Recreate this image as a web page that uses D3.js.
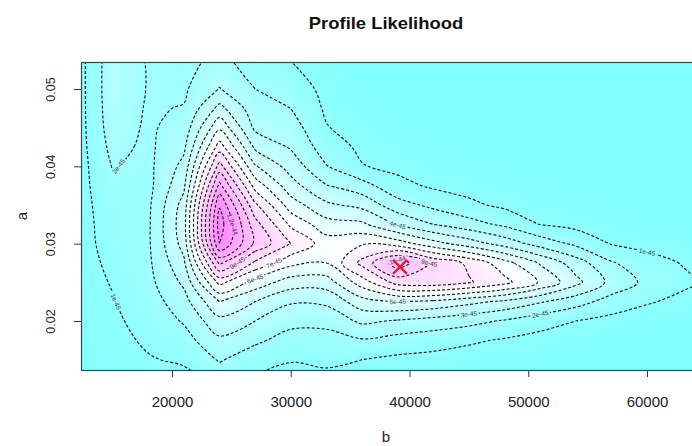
<!DOCTYPE html>
<html>
<head>
<meta charset="utf-8">
<script src="https://cdn.jsdelivr.net/npm/d3@7"></script>
<style>
  body { margin: 0; background: #fff; }
  svg { display: block; }
</style>
</head>
<body>
<div id="graphicContainer"></div>
<script>
// grid of the profile likelihood (values in units of 1e-45)
const bGrid = [12000, 15000, 18000, 21000, 24000, 27000, 30000, 33000, 36000, 39000, 42000, 45000, 48000, 51000, 54000, 57000, 60000, 63000, 66000]
const aGrid = [0.055, 0.0525, 0.05, 0.0475, 0.045, 0.0425, 0.04, 0.0375, 0.035, 0.0325, 0.03, 0.0275, 0.025, 0.0225, 0.02, 0.0175, 0.015, 0.0125]
const likelihood = [
  [0.5, 2.6, 1.9, 1.6, 2.2, 1.2, 0.8, 0.35, 0.15, 0.1, 0.1, 0.1, 0.1, 0.1, 0.1, 0.1, 0.1, 0.1, 0.1],
  [0.5, 2.65, 1.95, 1.7, 2.5, 1.6, 1.15, 0.5, 0.2, 0.1, 0.1, 0.1, 0.1, 0.1, 0.1, 0.1, 0.1, 0.1, 0.1],
  [0.5, 2.65, 1.95, 1.85, 3.05, 2.0, 1.6, 0.7, 0.3, 0.15, 0.1, 0.1, 0.1, 0.1, 0.1, 0.1, 0.1, 0.1, 0.1],
  [0.5, 2.6, 1.9, 2.05, 4.3, 2.4, 2.0, 0.85, 0.45, 0.25, 0.15, 0.1, 0.1, 0.1, 0.1, 0.1, 0.1, 0.1, 0.1],
  [0.5, 2.5, 1.85, 2.4, 5.8, 2.8, 2.5, 1.05, 0.6, 0.4, 0.25, 0.15, 0.1, 0.1, 0.1, 0.1, 0.1, 0.1, 0.1],
  [0.5, 2.3, 1.8, 2.8, 7.5, 3.8, 2.9, 1.5, 0.8, 0.55, 0.35, 0.25, 0.15, 0.1, 0.1, 0.1, 0.1, 0.1, 0.1],
  [0.5, 2.05, 1.75, 3.3, 9.4, 5.1, 3.6, 2.05, 1.05, 0.75, 0.5, 0.4, 0.3, 0.2, 0.15, 0.1, 0.1, 0.1, 0.1],
  [0.6, 1.7, 1.7, 3.8, 11.3, 6.6, 4.4, 3.05, 2.4, 1.3, 0.85, 0.65, 0.5, 0.35, 0.25, 0.2, 0.15, 0.1, 0.1],
  [0.7, 1.4, 1.8, 4.4, 12.9, 8.2, 5.5, 4.2, 3.7, 2.4, 1.75, 1.2, 0.8, 0.55, 0.4, 0.3, 0.2, 0.15, 0.1],
  [0.72, 1.3, 1.85, 4.6, 13.5, 9.4, 6.8, 5.4, 5.2, 3.9, 3.0, 2.4, 1.8, 0.97, 0.7, 0.5, 0.35, 0.25, 0.15],
  [0.72, 1.25, 1.85, 4.4, 13.0, 9.8, 8.0, 6.5, 6.9, 6.5, 5.4, 4.5, 3.6, 2.6, 1.8, 0.95, 0.7, 0.5, 0.35],
  [0.7, 1.15, 1.8, 3.8, 10.2, 7.8, 6.3, 6.0, 8.3, 10.6, 8.8, 7.8, 6.4, 4.9, 3.5, 2.1, 1.4, 0.95, 0.6],
  [0.65, 1.05, 1.7, 3.2, 7.3, 5.6, 4.5, 4.5, 6.5, 8.4, 8.6, 8.1, 7.3, 5.9, 4.3, 2.7, 1.75, 1.2, 0.7],
  [0.6, 0.95, 1.5, 2.6, 5.0, 4.0, 3.1, 3.2, 4.6, 5.0, 4.8, 4.3, 3.8, 3.1, 2.4, 1.6, 1.1, 0.75, 0.45],
  [0.55, 0.85, 1.3, 2.1, 3.7, 3.0, 2.3, 2.3, 3.2, 2.9, 2.6, 2.3, 1.9, 1.4, 1.0, 0.7, 0.45, 0.3, 0.2],
  [0.5, 0.8, 1.1, 1.6, 2.8, 2.2, 1.6, 1.6, 1.9, 1.6, 1.4, 1.15, 0.9, 0.65, 0.45, 0.3, 0.2, 0.15, 0.1],
  [0.45, 0.7, 0.95, 1.1, 2.1, 1.4, 1.05, 1.15, 1.0, 0.8, 0.7, 0.55, 0.4, 0.3, 0.2, 0.15, 0.1, 0.1, 0.1],
  [0.4, 0.6, 0.85, 0.8, 1.3, 1.0, 0.7, 0.8, 0.6, 0.5, 0.4, 0.3, 0.2, 0.15, 0.1, 0.1, 0.1, 0.1, 0.1]
]
const levels = [1, 2, 3, 4, 5, 6, 7, 8, 9, 10, 11, 12, 13]
const unit = 1e-45

const bTicks = [20000, 30000, 40000, 50000, 60000]
const aTicks = [0.02, 0.03, 0.04, 0.05]

// contour labels: approximate spot + level
const labelB = [60660, 16040, 15620, 50140, 45090, 39610, 43820, 39030, 28080, 28080, 24710, 25300, 39000]
const labelA = [0.0268, 0.0389, 0.0227, 0.0199, 0.0210, 0.0231, 0.0281, 0.0311, 0.0259, 0.0283, 0.0283, 0.0328, 0.0282]
const labelLevel = [1, 2, 1, 2, 3, 5, 9, 4, 6, 7, 9, 12, 10]

// maximum likelihood estimate
const mleB = 39200
const mleA = 0.0270

var width = 692
var height = 446
var pLeft = 81, pRight = 700, pTop = 62, pBottom = 370

var x = d3.scaleLinear().domain([12337, 64463]).range([pLeft, pRight])
var y = d3.scaleLinear().domain([0.013663, 0.053491]).range([pBottom, pTop])

const svg = d3.select("#graphicContainer")
  .append("svg")
  .attr("width", width)
  .attr("height", height)
  .style("font-family", "'Liberation Sans', Arial, sans-serif")

svg.append("defs").append("clipPath")
  .attr("id", "plotClip")
  .append("rect")
  .attr("x", pLeft).attr("y", pTop)
  .attr("width", pRight - pLeft).attr("height", pBottom - pTop)

// R cm.colors: cyan -> white -> magenta
function cmColor(t) {
  t = Math.max(0, Math.min(1, t))
  if (t < 0.5) {
    var s = 0.5 * (1 - 2 * t)
    return d3.rgb(255 * (1 - s), 255, 255)
  }
  var s2 = 0.5 * (2 * t - 1)
  return d3.rgb(255, 255 * (1 - s2), 255)
}

// pad the grid by one cell on every side (edge values repeated)
var nx = bGrid.length + 2, ny = aGrid.length + 2
var values = []
for (var j = 0; j < ny; j++) {
  var row = likelihood[Math.min(Math.max(j - 1, 0), aGrid.length - 1)]
  for (var i = 0; i < nx; i++) {
    values.push(row[Math.min(Math.max(i - 1, 0), bGrid.length - 1)])
  }
}

var db = bGrid[1] - bGrid[0]
var da = aGrid[1] - aGrid[0]
function gx(g) { return x(bGrid[0] + (g - 1.5) * db) }
function gy(g) { return y(aGrid[0] + (g - 1.5) * da) }

var ringLine = d3.line()
  .x(function (p) { return gx(p[0]) })
  .y(function (p) { return gy(p[1]) })
  .curve(d3.curveCatmullRomClosed.alpha(0.5))

function contourPath(c) {
  return c.coordinates.map(function (poly) {
    return poly.map(function (ring) { return ringLine(ring.slice(0, -1)) }).join("")
  }).join("")
}

var contours = d3.contours().size([nx, ny])
var zExtent = d3.extent(likelihood.flat())
var fillSteps = d3.range(zExtent[0], zExtent[1], 0.15)

var plot = svg.append("g").attr("clip-path", "url(#plotClip)")

plot.append("g")
  .selectAll("path")
  .data(contours.thresholds(fillSteps)(values))
  .join("path")
  .attr("d", contourPath)
  .attr("fill-rule", "evenodd")
  .attr("fill", function (d) {
    return cmColor((d.value + 0.075 - zExtent[0]) / (zExtent[1] - zExtent[0]))
  })

var lines = contours.thresholds(levels)(values)

plot.append("g")
  .selectAll("path")
  .data(lines)
  .join("path")
  .attr("d", contourPath)
  .attr("fill", "none")
  .attr("stroke", "#111")
  .attr("stroke-width", 1.1)
  .attr("stroke-dasharray", "3,2")

// contour labels at the nearest point of the wanted level
function labelText(k) {
  return Number((k * unit).toPrecision(2)).toExponential()
}

var labelData = []
labelLevel.forEach(function (lev, n) {
  var c = lines.find(function (l) { return l.value === lev })
  var px = x(labelB[n]), py = y(labelA[n])
  var best = null, bestD = Infinity
  c.coordinates.forEach(function (poly) {
    poly.forEach(function (ring) {
      ring.forEach(function (p, k) {
        var qx = gx(p[0]), qy = gy(p[1])
        var dd = (qx - px) * (qx - px) + (qy - py) * (qy - py)
        if (dd < bestD) {
          bestD = dd
          var nb = ring[(k + 1) % ring.length]
          var ang = Math.atan2(gy(nb[1]) - qy, gx(nb[0]) - qx) * 180 / Math.PI
          if (ang > 90) ang -= 180
          if (ang < -90) ang += 180
          best = { x: qx, y: qy, angle: ang, level: lev }
        }
      })
    })
  })
  if (best) labelData.push(best)
})

var lab = plot.append("g")
  .selectAll("g")
  .data(labelData)
  .join("g")
  .attr("transform", function (d) {
    return "translate(" + d.x + "," + d.y + ") rotate(" + d.angle + ")"
  })

lab.append("rect")
  .attr("x", -10).attr("y", -3.5)
  .attr("width", 20).attr("height", 7)
  .attr("fill", function (d) {
    return cmColor((d.level - zExtent[0]) / (zExtent[1] - zExtent[0]))
  })

lab.append("text")
  .attr("text-anchor", "middle")
  .attr("dy", "0.35em")
  .style("font-size", "6.5px")
  .attr("fill", "#333")
  .text(function (d) { return labelText(d.level) })

// MLE marker
var mx = x(mleB), my = y(mleA)
plot.append("path")
  .attr("d", "M" + (mx - 7) + "," + (my - 7) + "L" + (mx + 7) + "," + (my + 7) +
    "M" + (mx - 7) + "," + (my + 7) + "L" + (mx + 7) + "," + (my - 7))
  .attr("stroke", "#e8182a")
  .attr("stroke-width", 2.2)
  .attr("fill", "none")

// axes
var xAxis = svg.append("g")
  .attr("transform", "translate(0," + pBottom + ")")
  .call(d3.axisBottom(x).tickValues(bTicks).tickSize(7).tickPadding(19).tickFormat(d3.format("d")))
xAxis.select(".domain").remove()
xAxis.selectAll("line").attr("stroke", "#333")
xAxis.selectAll("text").style("font-size", "15px").attr("fill", "#222")

var yAxis = svg.append("g")
  .attr("transform", "translate(" + pLeft + ",0)")
  .call(d3.axisLeft(y).tickValues(aTicks).tickSize(7).tickFormat(d3.format(".2f")))
yAxis.select(".domain").remove()
yAxis.selectAll("line").attr("stroke", "#333")
yAxis.selectAll("text")
  .attr("transform", "rotate(-90)")
  .attr("x", 0)
  .attr("y", -26)
  .attr("dy", 0)
  .attr("text-anchor", "middle")
  .style("font-size", "12.5px")
  .attr("fill", "#222")

// plot frame
svg.append("rect")
  .attr("x", pLeft + 0.5).attr("y", pTop + 0.5)
  .attr("width", pRight - pLeft).attr("height", pBottom - pTop)
  .attr("fill", "none")
  .attr("stroke", "#1f4f4f")
  .attr("stroke-width", 1.2)

// titles
svg.append("text")
  .attr("transform", "translate(386,29) scale(1.15,1)")
  .attr("text-anchor", "middle")
  .style("font-size", "16px")
  .style("font-weight", "bold")
  .attr("fill", "#111")
  .text("Profile Likelihood")

svg.append("text")
  .attr("x", 386).attr("y", 442)
  .attr("text-anchor", "middle")
  .style("font-size", "15px")
  .attr("fill", "#222")
  .text("b")

svg.append("text")
  .attr("transform", "translate(27,216) rotate(-90)")
  .attr("text-anchor", "middle")
  .style("font-size", "15px")
  .attr("fill", "#222")
  .text("a")
</script>
</body>
</html>
